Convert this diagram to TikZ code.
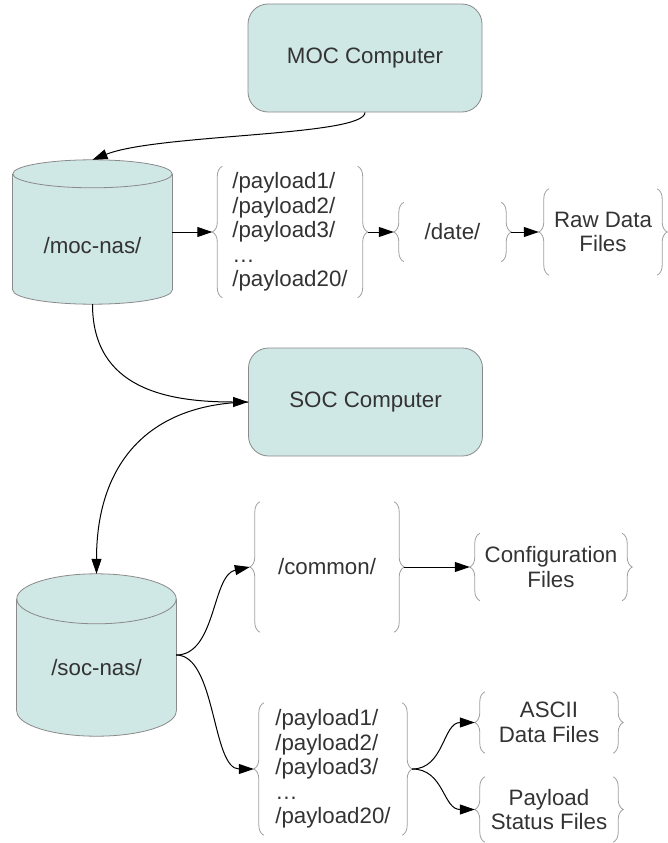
\documentclass[tikz,border=0pt]{standalone}
\usepackage{fontspec}
\setmainfont{Liberation Sans}
\usetikzlibrary{arrows.meta,decorations.pathreplacing,calc}
\definecolor{tealfill}{HTML}{CFE7E5}
\definecolor{boxline}{HTML}{8A8A8A}
\definecolor{bracecol}{HTML}{A0A0A0}
\definecolor{textgray}{HTML}{333333}
\newcommand\bracepair[1]{%
  \draw[bracedraw] (#1.south west) -- (#1.north west);
  \draw[bracedraw] (#1.north east) -- (#1.south east);
  \coordinate (#1-L) at ([xshift=-10pt]#1.west);
  \coordinate (#1-R) at ([xshift=10pt]#1.east);
}
\newcommand\cylat[2]{%
  \path let \p1=(#1.west), \p2=(#1.east) in
    [fill=tealfill, draw=boxline, line width=0.8pt]
    ([yshift=#2]#1.south) ellipse [x radius={(\x2-\x1)/2}, y radius=#2];
  \fill[tealfill] ([yshift=-#2]#1.north west) rectangle ([yshift=#2]#1.south east);
  \draw[boxline, line width=0.8pt] ([yshift=-#2]#1.north west) -- ([yshift=#2]#1.south west)
    ([yshift=-#2]#1.north east) -- ([yshift=#2]#1.south east);
  \path let \p1=(#1.west), \p2=(#1.east) in
    [fill=tealfill, draw=boxline, line width=0.8pt]
    ([yshift=-#2]#1.north) ellipse [x radius={(\x2-\x1)/2}, y radius=#2];
}
\tikzset{
  basefont/.style={font=\fontsize{22.3pt}{24.5pt}\selectfont, text=textgray},
  compbox/.style={basefont, rectangle, rounded corners=20pt, draw=boxline, fill=tealfill,
    line width=0.8pt, minimum width=234pt, minimum height=108pt},
  cylarea/.style={rectangle, inner sep=0pt, minimum width=159pt},
  cyltext/.style={basefont, inner sep=0pt},
  bgrp/.style={basefont, rectangle, inner sep=0pt, align=center},
  bracedraw/.style={draw=bracecol, line width=0.8pt, decorate,
    decoration={brace, amplitude=10pt}},
  conn/.style={draw=black, line width=1pt, -{Triangle[length=15pt,width=10pt]}},
}
\begin{document}
\begin{tikzpicture}[x=1pt,y=-1pt]
\useasboundingbox (0,0) rectangle (667,843);

% computers
\node[compbox] (moc) at (365,58) {MOC Computer};
\node[compbox] (soc) at (365.5,402) {SOC Computer};

% cylinders
\node[cylarea, minimum height=144pt] (mocnas) at (92.5,232) {};
\cylat{mocnas}{14pt}
\node[cyltext] (mocnastext) at ([yshift=-14pt]mocnas.center) {/moc-nas/};

\node[cylarea, minimum height=162pt] (socnas) at (96.5,655) {};
\cylat{socnas}{25pt}
\node[cyltext] (socnastext) at ([yshift=-13pt]socnas.center) {/soc-nas/};

% brace groups (top)
\node[bgrp, align=left, minimum width=135pt, minimum height=131pt] (payA) at (290,232)
  {/payload1/\\/payload2/\\/payload3/\\…\\/payload20/};
\node[bgrp, minimum width=97pt, minimum height=59pt] (date) at (452.5,232) {/date/};
\node[bgrp, minimum width=108pt, minimum height=86pt] (raw) at (603,232) {Raw Data\\Files};

% brace groups (bottom)
\node[bgrp, minimum width=134pt, minimum height=130pt] (common) at (327,567) {/common/};
\node[bgrp, minimum width=142pt, minimum height=67pt] (config) at (551,567) {Configuration\\Files};
\node[bgrp, align=left, minimum width=138pt, minimum height=132pt] (payB) at (333,769)
  {/payload1/\\/payload2/\\/payload3/\\…\\/payload20/};
\node[bgrp, minimum width=128pt, minimum height=61pt] (ascii) at (549,722.5) {ASCII\\Data Files};
\node[bgrp, minimum width=128pt, minimum height=65pt] (status) at (549,809.5) {Payload\\Status Files};

\bracepair{payA}
\bracepair{date}
\bracepair{raw}
\bracepair{common}
\bracepair{config}
\bracepair{payB}
\bracepair{ascii}
\bracepair{status}

% connectors
\draw[conn] (moc.south) .. controls ($(moc.south)+(0,24)$) and ($(mocnas.north)+(65,-26)$) .. (mocnas.north);
\draw[conn] (mocnas.east) -- (payA-L);
\draw[conn] (payA-R) -- (date-L);
\draw[conn] (date-R) -- (raw-L);
\draw[conn] (mocnas.south) .. controls ($(mocnas.south)+(0,85)$) and ($(soc.west)+(-80,0)$) .. (soc.west);
\draw[conn] (soc.west) .. controls ($(soc.west)+(-100,2)$) and ($(socnas.north)+(0,-110)$) .. (socnas.north);
\draw[conn] (socnas.east) .. controls ($(socnas.east)+(40,0)$) and ($(common-L)+(-38,8)$) .. (common-L);
\draw[conn] (socnas.east) .. controls ($(socnas.east)+(40,0)$) and ($(payB-L)+(-42,0)$) .. (payB-L);
\draw[conn] (common-R) -- (config-L);
\draw[conn] (payB-R) .. controls ($(payB-R)+(32,0)$) and ($(ascii-L)+(-32,0)$) .. (ascii-L);
\draw[conn] (payB-R) .. controls ($(payB-R)+(32,0)$) and ($(status-L)+(-32,0)$) .. (status-L);
\end{tikzpicture}
\end{document}
